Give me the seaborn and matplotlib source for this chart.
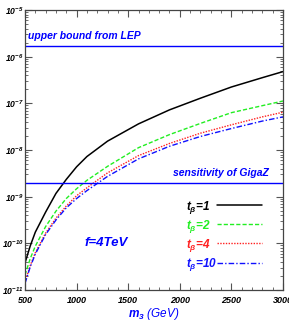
import numpy as np
import pandas as pd
import matplotlib
matplotlib.use("Agg")
import matplotlib.pyplot as plt
import seaborn as sns
from matplotlib.ticker import MultipleLocator, LogLocator

# m_3 grid (GeV) and log10 of the curves
m3 = [500, 550, 600, 700, 800, 900, 1000, 1100, 1300, 1600, 1900, 2200, 2500, 2800, 3000]
tb1_log = [-10.42, -10.06, -9.76, -9.33, -8.93, -8.63, -8.36, -8.14, -7.81, -7.44, -7.14, -6.89, -6.65, -6.45, -6.32]
tb2_log = [-10.68, -10.33, -10.06, -9.64, -9.31, -9.04, -8.83, -8.65, -8.35, -7.95, -7.67, -7.43, -7.20, -7.05, -6.95]
tb4_log = [-10.83, -10.48, -10.20, -9.78, -9.46, -9.20, -8.98, -8.81, -8.49, -8.12, -7.86, -7.64, -7.46, -7.29, -7.19]
tb10_log = [-10.86, -10.51, -10.23, -9.81, -9.50, -9.24, -9.04, -8.87, -8.565, -8.19, -7.92, -7.71, -7.54, -7.38, -7.29]

series_labels = [r"$t_\beta$=1", r"$t_\beta$=2", r"$t_\beta$=4", r"$t_\beta$=10"]
series_colors = ["black", "#22ee22", "#ff2020", "#1010ff"]
series_styles = ["-", (0, (3, 1.5)), (0, (1, 1)), (0, (4, 1.5, 1, 1.5))]

lep_bound = 1.7e-6
gigaz_sens = 2.0e-9

sns.set_style("ticks")
plt.rcParams["font.family"] = ["Liberation Sans", "DejaVu Sans"]
plt.rcParams["font.weight"] = "bold"
plt.rcParams["font.style"] = "italic"
plt.rcParams["mathtext.fontset"] = "custom"
plt.rcParams["mathtext.rm"] = "Liberation Sans:bold:italic"
plt.rcParams["mathtext.it"] = "Liberation Sans:bold:italic"
plt.rcParams["mathtext.bf"] = "Liberation Sans:bold:italic"

fig = plt.figure(figsize=(2.89, 3.23), dpi=100)
ax = fig.add_axes([25 / 289, 1 - 290 / 323, 258 / 289, 280 / 323])

df = pd.DataFrame({"m3": m3 * 4,
                   "val": 10 ** np.array(tb1_log + tb2_log + tb4_log + tb10_log),
                   "tb": sum([[l] * len(m3) for l in series_labels], [])})

lws = [1.1, 1.0, 1.0, 1.0]
for lab, col, ls, lw in zip(series_labels, series_colors, series_styles, lws):
    sub = df[df["tb"] == lab]
    sns.lineplot(data=sub, x="m3", y="val", ax=ax, color=col, linestyle=ls,
                 linewidth=lw, legend=False)

ax.axhline(lep_bound, color="#0000ff", lw=1.0)
ax.axhline(gigaz_sens, color="#0000ff", lw=1.0)

ax.set_yscale("log")
ax.set_xlim(500, 3000)
ax.set_ylim(1e-11, 1e-5)

ax.xaxis.set_major_locator(MultipleLocator(500))
ax.xaxis.set_minor_locator(MultipleLocator(100))
ax.yaxis.set_major_locator(LogLocator(base=10, numticks=20))
ax.yaxis.set_minor_locator(LogLocator(base=10, subs=np.arange(2, 10), numticks=20))
ax.tick_params(which="both", direction="in", top=True, right=True, colors="#555555",
               labelcolor="black")
ax.tick_params(which="major", length=5, width=0.8, labelsize=6.5)
ax.tick_params(which="minor", length=2.5, width=0.6)
ax.tick_params(axis="x", pad=4)
ax.tick_params(axis="y", pad=1, labelsize=6.2)
for s in ax.spines.values():
    s.set_color("#444444")
    s.set_linewidth(0.9)

ax.set_xlabel(r"$m_3$ (GeV)", color="#0000ff", fontsize=8.5, labelpad=1)
ax.set_ylabel("")

ax.text(530, lep_bound * 1.25, "upper bound from LEP", color="#0000ff", fontsize=7.5,
        va="bottom", ha="left")
ax.text(2860, gigaz_sens * 1.25, "sensitivity of GigaZ", color="#0000ff", fontsize=7.5,
        va="bottom", ha="right")
ax.text(1285, 1.0e-10, "f=4TeV", color="#0000ff", fontsize=9.5, ha="center", va="center")

# legend drawn by hand: labels left-aligned, samples to the right
for i, (lab, col, ls, lw) in enumerate(zip(series_labels, series_colors, series_styles, lws)):
    yf = (290 - (207 + i * 19.3)) / 280
    ax.text(0.624, yf, lab, transform=ax.transAxes, color=col, fontsize=8.5,
            ha="left", va="center")
    ax.plot([0.744, 0.919], [yf + 0.008, yf + 0.008], transform=ax.transAxes,
            color=col, linestyle=ls, linewidth=lw)

fig.savefig("out.png", dpi=100)
